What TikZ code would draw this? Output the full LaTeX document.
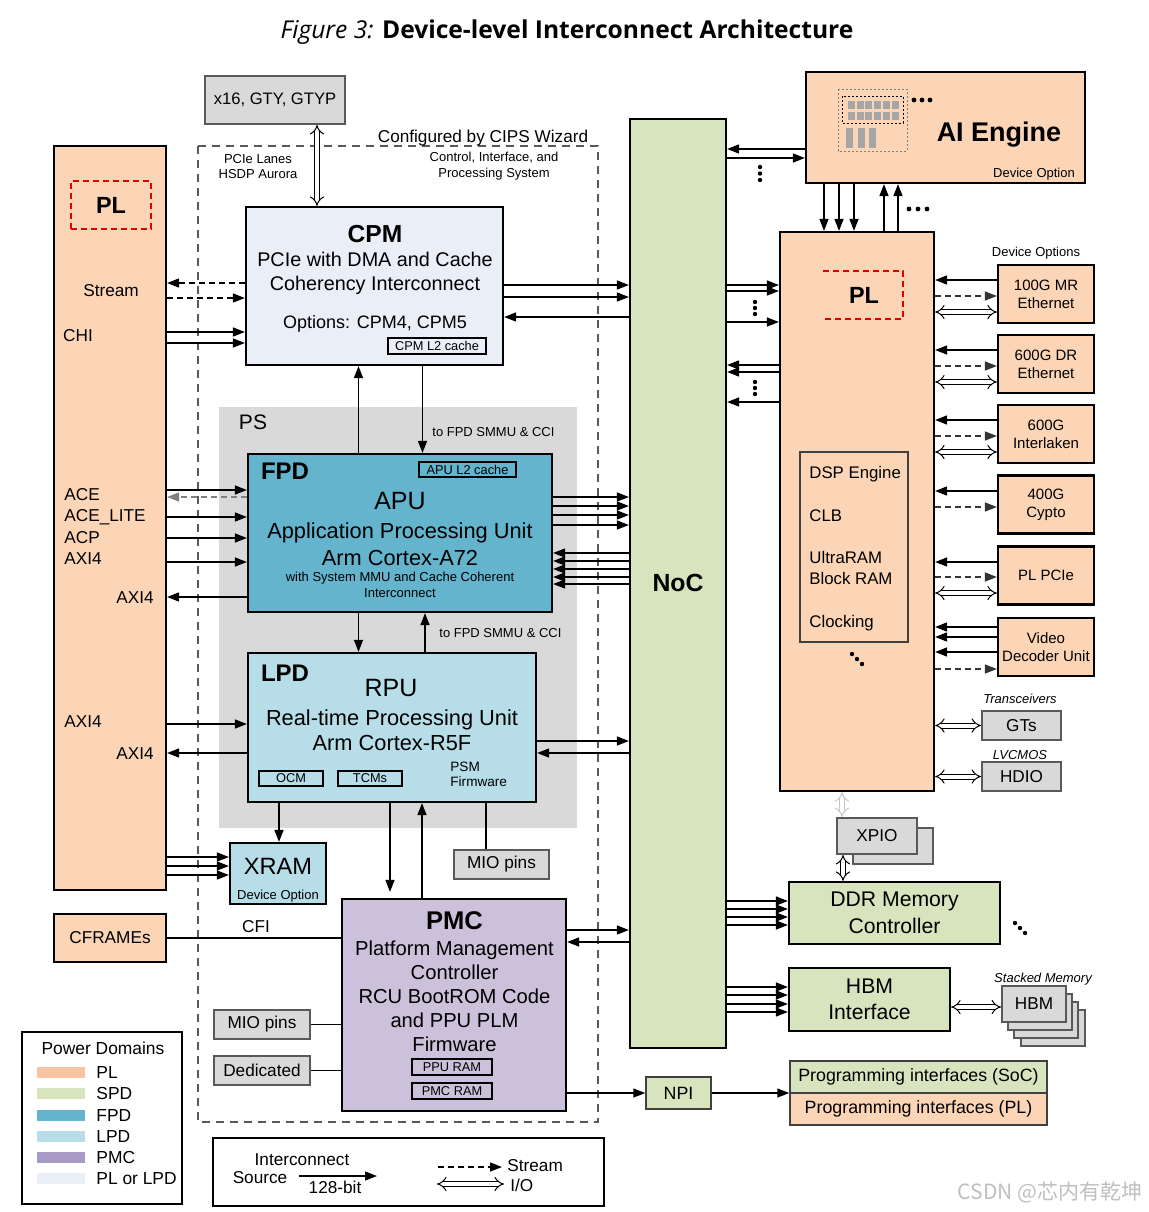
\documentclass[tikz,border=0pt]{standalone}
\usepackage{fontspec}
\setmainfont{Liberation Sans}
\newfontfamily\titlefont{Open Sans}
\newfontfamily\cjk{Noto Sans CJK SC}
\usetikzlibrary{arrows.meta}

\definecolor{plfill}{HTML}{FBD5B6}
\definecolor{plsw}{HTML}{F8C3A0}
\definecolor{nocfill}{HTML}{D7E4BD}
\definecolor{fpdfill}{HTML}{63B4CC}
\definecolor{lpdfill}{HTML}{B7DDE8}
\definecolor{pmcfill}{HTML}{CCC1DA}
\definecolor{pmcsw}{HTML}{A79AC6}
\definecolor{cpmfill}{HTML}{E9EEF7}
\definecolor{grayfill}{HTML}{D9D9D9}
\definecolor{graydraw}{HTML}{595959}
\definecolor{plred}{HTML}{E00000}
\definecolor{iconfill}{HTML}{A6A6A6}

\newcommand\fsz[2]{\fontsize{#1}{#2}\selectfont}

\tikzset{
  box/.style={draw=black, line width=1.1pt, inner sep=0pt, align=center},
  gbox/.style={draw=graydraw, fill=grayfill, line width=0.9pt, inner sep=0pt, align=center},
  pbox/.style={draw=black!75, line width=0.7pt, inner sep=0pt},
  sub/.style={draw=black, line width=0.6pt, inner sep=0pt, font=\fsz{6.4}{7.7}},
  reddash/.style={draw=plred, line width=0.9pt, dash pattern=on 3pt off 2pt},
  lbl/.style={anchor=base, inner sep=0pt},
  lblw/.style={anchor=base west, inner sep=0pt},
  lble/.style={anchor=base east, inner sep=0pt},
  tiny/.style={font=\fsz{6.5}{7.8}},
  mid/.style={font=\fsz{8.6}{10.3}},
  wire/.style={line width=0.7pt},
  arr/.style={line width=0.7pt, -{Triangle[length=6pt,width=4.5pt]}},
  strm/.style={arr, dash pattern=on 3pt off 2pt},
  io/.style={double, double distance=2pt, line width=0.5pt, {Implies}-{Implies}},
}

\begin{document}
\begin{tikzpicture}[x=0.5pt,y=-0.5pt]
\useasboundingbox (0,0) rectangle (1149,1212);

% title
\node[lbl] (title) at (567,38.5) {\titlefont\fsz{12.3}{15}\textit{Figure 3:} \textbf{Device-level Interconnect Architecture}};

% PS region and CIPS boundary
\node[fill=grayfill, minimum width=179pt, minimum height=210.5pt, inner sep=0pt] (PS) at (398,617.5) {};
\node[lbl, font=\fsz{10.5}{12}] (psT) at (253,429.5) {PS};
\draw[graydraw, line width=0.7pt, dash pattern=on 4pt off 3pt] (198,146) rectangle (598,1122);
\node[lbl, mid] (cipsT) at (483,142) {Configured by CIPS Wizard};
\node[lbl, tiny] (cipsT1) at (494,161.7) {Control, Interface, and};
\node[lbl, tiny] (cipsT2) at (494,177.7) {Processing System};
\node[lbl, tiny] (laneT1) at (258,163.7) {PCIe Lanes};
\node[lbl, tiny] (laneT2) at (258,178.7) {HSDP Aurora};

% left PL column
\node[box, fill=plfill, minimum width=56pt, minimum height=372pt] (PLL) at (110,518) {};
\node[reddash, minimum width=40pt, minimum height=24pt, inner sep=0pt, font=\bfseries\fsz{11.7}{14}] (PLLt) at (111,205) {PL};
\node[lbl, mid] (plStream) at (111,296) {Stream};
\node[lbl, mid] (plChi) at (78,341) {CHI};
\node[lblw, mid] (plAce) at (64,500) {ACE};
\node[lblw, mid] (plAceL) at (64,521) {ACE\_LITE};
\node[lblw, mid] (plAcp) at (64,543) {ACP};
\node[lblw, mid] (plAxiA) at (64,564) {AXI4};
\node[lble, mid] (plAxiB) at (154,603) {AXI4};
\node[lblw, mid] (plAxiC) at (64,727) {AXI4};
\node[lble, mid] (plAxiD) at (154,759) {AXI4};

% x16 and CPM
\node[gbox, minimum width=70pt, minimum height=24pt, font=\fsz{8.3}{10}] (x16) at (275,100) {x16, GTY, GTYP};
\node[box, fill=cpmfill, minimum width=128.5pt, minimum height=79pt] (CPM) at (374.5,286) {};
\node[lbl, font=\bfseries\fsz{12.3}{14}] (cpmT) at (375,242) {CPM};
\node[lbl, font=\fsz{9.9}{12}] (cpmT1) at (375,266.5) {PCIe with DMA and Cache};
\node[lbl, font=\fsz{9.9}{12}] (cpmT2) at (375,290.5) {Coherency Interconnect};
\node[lbl, font=\fsz{9}{11}] (cpmT3) at (375,328.5) {Options: CPM4, CPM5};
\node[sub, minimum width=49pt, minimum height=8pt] (cpmL2) at (437,346) {CPM L2 cache};

% FPD
\node[box, fill=fpdfill, minimum width=152pt, minimum height=79pt] (FPD) at (400,533) {};
\node[lbl, font=\bfseries\fsz{12}{14}] (fpdT) at (285,479.6) {FPD};
\node[sub, minimum width=48.5pt, minimum height=7.5pt] (apuL2) at (467.5,469.5) {APU L2 cache};
\node[lbl, font=\fsz{12.5}{14}] (apuT) at (400,509) {APU};
\node[lbl, font=\fsz{10.9}{13}] (apuT1) at (400,538) {Application Processing Unit};
\node[lbl, font=\fsz{10.9}{13}] (apuT2) at (400,565) {Arm Cortex-A72};
\node[lbl, tiny] (apuT3) at (400,581.7) {with System MMU and Cache Coherent};
\node[lbl, tiny] (apuT4) at (400,597.7) {Interconnect};

% LPD
\node[box, fill=lpdfill, minimum width=144pt, minimum height=74.5pt] (LPD) at (392,727.5) {};
\node[lbl, font=\bfseries\fsz{12}{14}] (lpdT) at (285,681.6) {LPD};
\node[lbl, font=\fsz{12.5}{14}] (rpuT) at (391,696) {RPU};
\node[lbl, font=\fsz{10.9}{13}] (rpuT1) at (392,725) {Real-time Processing Unit};
\node[lbl, font=\fsz{10.9}{13}] (rpuT2) at (392,750) {Arm Cortex-R5F};
\node[sub, minimum width=32pt, minimum height=7.5pt] (ocm) at (291,778.5) {OCM};
\node[sub, minimum width=32pt, minimum height=7.5pt] (tcm) at (370,778.5) {TCMs};
\node[lblw, font=\fsz{6.8}{8}] (psmT1) at (450,771.9) {PSM};
\node[lblw, font=\fsz{6.8}{8}] (psmT2) at (450,786.9) {Firmware};

% XRAM, MIO
\node[box, fill=lpdfill, minimum width=48pt, minimum height=30.5pt] (XRAM) at (278,873.5) {};
\node[lbl, font=\fsz{11.8}{14}] (xramT) at (278,874.5) {XRAM};
\node[lbl, tiny] (xramT1) at (278,899.6) {Device Option};
\node[gbox, minimum width=47.5pt, minimum height=14.5pt, mid] (mio1) at (501.5,864.5) {MIO pins};

% PMC and its inputs
\node[box, fill=pmcfill, minimum width=112pt, minimum height=106pt] (PMC) at (454,1005) {};
\node[lbl, font=\bfseries\fsz{12.8}{14}] (pmcT) at (454.5,929) {PMC};
\node[lbl, font=\fsz{10.1}{12}] (pmcT1) at (454.5,955.2) {Platform Management};
\node[lbl, font=\fsz{10.1}{12}] (pmcT2) at (454.5,979.2) {Controller};
\node[lbl, font=\fsz{10.1}{12}] (pmcT3) at (454.5,1003.2) {RCU BootROM Code};
\node[lbl, font=\fsz{10.1}{12}] (pmcT4) at (454.5,1027.2) {and PPU PLM};
\node[lbl, font=\fsz{10.1}{12}] (pmcT5) at (454.5,1051.2) {Firmware};
\node[sub, minimum width=40pt, minimum height=8pt] (ppuram) at (452,1067) {PPU RAM};
\node[sub, minimum width=40pt, minimum height=8pt] (pmcram) at (452,1091) {PMC RAM};
\node[box, fill=plfill, minimum width=56pt, minimum height=24pt, mid] (CFR) at (110,938) {CFRAMEs};
\node[lbl, mid] (cfiT) at (256,932) {CFI};
\node[gbox, minimum width=48pt, minimum height=14.5pt, mid] (mio2) at (262,1024.5) {MIO pins};
\node[gbox, minimum width=48pt, minimum height=14.5pt, mid] (ded) at (262,1070.5) {Dedicated};

% NoC
\node[box, fill=nocfill, minimum width=48pt, minimum height=464.5pt] (NoC) at (678,583.5) {};
\node[lbl, font=\bfseries\fsz{12.4}{14}] (nocT) at (678,591) {NoC};

% AI Engine
\node[box, fill=plfill, minimum width=139.5pt, minimum height=55.5pt] (AIE) at (945.5,127.5) {};
\node[lbl, font=\bfseries\fsz{13.5}{16}] (aieT) at (999,141.7) {AI Engine};
\node[lbl, tiny] (aieT1) at (1034,177.6) {Device Option};
\draw[gray, line width=0.4pt, dash pattern=on 1pt off 1pt] (838,89) rectangle (907,151);
\draw[black, line width=0.5pt, dash pattern=on 1.2pt off 0.8pt] (842,96) rectangle (903,123);
\foreach \i in {0,...,5}
  \foreach \j in {0,1}
    \fill[iconfill] (848+\i*8.7,101+\j*10.5) rectangle ++(7,8);
\foreach \i in {0,1,2}
  \fill[iconfill] (846+\i*11.7,128) rectangle ++(7,20);
\foreach \i in {0,1,2}
  \fill (914+\i*8,100) circle (1.2pt);

% right PL column
\node[box, fill=plfill, minimum width=77pt, minimum height=279.5pt] (PLR) at (857,511.5) {};
\draw[reddash] (823,271) -- (903,271) -- (903,319) -- (823,319);
\node[lbl, font=\bfseries\fsz{11.7}{14}] (PLRt) at (864,303.4) {PL};
\node[draw=black!75, line width=0.6pt, fill=plfill, minimum width=54pt, minimum height=95pt, inner sep=0pt] (fab) at (854,547) {};
\node[lblw, font=\fsz{8.4}{10}] (fabT1) at (809,478) {DSP Engine};
\node[lblw, font=\fsz{8.4}{10}] (fabT2) at (809,521) {CLB};
\node[lblw, font=\fsz{8.4}{10}] (fabT3) at (809,563) {UltraRAM};
\node[lblw, font=\fsz{8.4}{10}] (fabT4) at (809,584) {Block RAM};
\node[lblw, font=\fsz{8.4}{10}] (fabT5) at (809,627) {Clocking};
\foreach \i in {0,1,2}
  \fill (852+\i*5,654+\i*5) circle (1.1pt);

% device options
\node[lbl, tiny] (devT) at (1036,256.7) {Device Options};
\foreach \dev/\cy/\txt in {eth100/294/{100G MR\\Ethernet}, eth600/364/{600G DR\\Ethernet},
    ilkn/434/{600G\\Interlaken}, crypto/504.5/{400G\\Cypto}, plpcie/575.5/{PL PCIe},
    vdu/647/{Video\\Decoder Unit}}
  \node[box, fill=plfill, minimum width=48pt, minimum height=29pt, font=\fsz{7.5}{9}] (\dev) at (1046,\cy) {\txt};

\node[lbl, tiny, font=\itshape\fsz{6.5}{7.8}] (gtT) at (1020,703.7) {Transceivers};
\node[gbox, minimum width=39.5pt, minimum height=14.5pt, mid] (GTs) at (1021.5,725.5) {GTs};
\node[lbl, tiny, font=\itshape\fsz{6.5}{7.8}] (hdioT) at (1020,759.7) {LVCMOS};
\node[gbox, minimum width=39.5pt, minimum height=14.5pt, mid] (HDIO) at (1021.5,776.5) {HDIO};

% XPIO, memory
\node[gbox, minimum width=40pt, minimum height=18pt] (xpioB) at (893,846) {};
\node[gbox, minimum width=40pt, minimum height=18pt, mid] (xpio) at (877,836) {XPIO};
\node[box, fill=nocfill, minimum width=105.5pt, minimum height=31pt, font=\fsz{10.6}{13.5}] (DDR) at (894.5,913) {DDR Memory\\Controller};
\foreach \i in {0,1,2}
  \fill (1015+\i*5,923+\i*5) circle (1.1pt);
\node[box, fill=nocfill, minimum width=80.5pt, minimum height=31.5pt, font=\fsz{10.6}{13.2}] (HBMI) at (869.5,999.5) {HBM\\Interface};
\node[lbl, font=\itshape\fsz{6.5}{7.8}] (stackT) at (1043,982.7) {Stacked Memory};
\foreach \k/\dx/\dy in {3/19/24, 2/12/16, 1/6/8}
  \node[gbox, minimum width=32pt, minimum height=18pt] (hbm\k) at (1034+\dx,1004+\dy) {};
\node[gbox, minimum width=32pt, minimum height=18pt, mid] (hbm) at (1034,1004) {HBM};

% NPI, programming interfaces
\node[pbox, fill=nocfill, minimum width=32.5pt, minimum height=16pt, font=\fsz{8.9}{10}] (NPI) at (678.5,1093) {NPI};
\node[pbox, fill=nocfill, minimum width=128.5pt, minimum height=16pt, font=\fsz{8.9}{10}] (progSoC) at (918.5,1077) {Programming interfaces (SoC)};
\node[pbox, fill=plfill, minimum width=128.5pt, minimum height=16pt, font=\fsz{8.9}{10}] (progPL) at (918.5,1109) {Programming interfaces (PL)};

% connectors, left side
\draw[io] (x16.south -| 317,0) -- (CPM.north -| 317,0);
\draw[strm] (CPM.west |- 0,283) -- (PLL.east |- 0,283);
\draw[strm] (PLL.east |- 0,298) -- (CPM.west |- 0,298);
\foreach \y in {332,343}
  \draw[arr] (PLL.east |- 0,\y) -- (CPM.west |- 0,\y);
\foreach \y in {285,297}
  \draw[arr] (CPM.east |- 0,\y) -- (NoC.west |- 0,\y);
\draw[arr] (NoC.west |- 0,317) -- (CPM.east |- 0,317);
\draw[arr] (FPD.north -| 358.5,0) -- (CPM.south -| 358.5,0);
\draw[arr] (CPM.south -| 422.5,0) -- (FPD.north -| 422.5,0);
\node[lblw, tiny] (smmu1) at (432,436.7) {to FPD SMMU \& CCI};

\foreach \y in {490,517,538,562}
  \draw[arr] (PLL.east |- 0,\y) -- (FPD.west |- 0,\y);
\draw[strm, gray] (FPD.west |- 0,497) -- (PLL.east |- 0,497);
\draw[arr] (FPD.west |- 0,597) -- (PLL.east |- 0,597);
\foreach \y in {497,506,515,525}
  \draw[arr] (FPD.east |- 0,\y) -- (NoC.west |- 0,\y);
\foreach \y in {553,561,569,577,584}
  \draw[arr] (NoC.west |- 0,\y) -- (FPD.east |- 0,\y);

\draw[arr] (FPD.south -| 358.5,0) -- (LPD.north -| 358.5,0);
\draw[arr] (LPD.north -| 425,0) -- (FPD.south -| 425,0);
\node[lblw, tiny] (smmu2) at (439,637.7) {to FPD SMMU \& CCI};
\draw[arr] (PLL.east |- 0,724) -- (LPD.west |- 0,724);
\draw[arr] (LPD.west |- 0,753) -- (PLL.east |- 0,753);
\draw[arr] (LPD.east |- 0,741) -- (NoC.west |- 0,741);
\draw[arr] (NoC.west |- 0,753) -- (LPD.east |- 0,753);

\draw[arr] (LPD.south -| 279,0) -- (XRAM.north -| 279,0);
\foreach \y in {857,866,875}
  \draw[arr] (PLL.east |- 0,\y) -- (XRAM.west |- 0,\y);
\draw[wire] (LPD.south -| 486,0) -- (mio1.north -| 486,0);
\draw[arr, shorten >=3pt] (LPD.south -| 390,0) -- (PMC.north -| 390,0);
\draw[arr] (PMC.north -| 422,0) -- (LPD.south -| 422,0);

\draw[wire] (CFR.east) -- (PMC.west |- CFR.east);
\draw[wire] (mio2.east) -- (PMC.west |- mio2.east);
\draw[wire] (ded.east) -- (PMC.west |- ded.east);
\draw[arr] (PMC.east |- 0,930) -- (NoC.west |- 0,930);
\draw[arr] (NoC.west |- 0,942) -- (PMC.east |- 0,942);
\draw[arr] (PMC.east |- NPI.west) -- (NPI.west);
\draw[arr] (NPI.east) -- (NPI.east -| progSoC.west);

% connectors, right side
\draw[arr] (AIE.west |- 0,149) -- (NoC.east |- 0,149);
\draw[arr] (NoC.east |- 0,158) -- (AIE.west |- 0,158);
\foreach \i in {0,1,2}
  \fill (760,167+\i*6.5) circle (1.1pt);
\foreach \x in {824,839,854}
  \draw[arr] (AIE.south -| \x,0) -- (PLR.north -| \x,0);
\foreach \x in {884,898}
  \draw[arr] (PLR.north -| \x,0) -- (AIE.south -| \x,0);
\foreach \i in {0,1,2}
  \fill (909+\i*9,209) circle (1.2pt);

\foreach \y in {285,291,322}
  \draw[arr] (NoC.east |- 0,\y) -- (PLR.west |- 0,\y);
\foreach \y in {365,372,402}
  \draw[arr] (PLR.west |- 0,\y) -- (NoC.east |- 0,\y);
\foreach \i in {0,1,2} {
  \fill (755,302+\i*6) circle (1.1pt);
  \fill (755,382+\i*6) circle (1.1pt);
}

\foreach \dev/\ya/\yb/\yc in {eth100/280/296/312, eth600/350/366/382, ilkn/420/436/452, plpcie/562/577/593} {
  \draw[arr] (\dev.west |- 0,\ya) -- (PLR.east |- 0,\ya);
  \draw[strm, black!80] (PLR.east |- 0,\yb) -- (\dev.west |- 0,\yb);
  \draw[io] (PLR.east |- 0,\yc) -- (\dev.west |- 0,\yc);
}
\draw[arr] (crypto.west |- 0,491) -- (PLR.east |- 0,491);
\draw[strm, black!80] (PLR.east |- 0,507) -- (crypto.west |- 0,507);
\foreach \y in {627,637,652}
  \draw[arr] (vdu.west |- 0,\y) -- (PLR.east |- 0,\y);
\draw[strm, black!80] (PLR.east |- 0,669) -- (vdu.west |- 0,669);
\draw[io] (PLR.east |- GTs.west) -- (GTs.west);
\draw[io] (PLR.east |- HDIO.west) -- (HDIO.west);

\draw[io, draw=gray!45] (PLR.south -| 842,0) -- (xpio.north -| 842,0);
\draw[io] (xpio.south -| 843,0) -- (DDR.north -| 843,0);
\foreach \y in {901,909,917,925}
  \draw[arr] (NoC.east |- 0,\y) -- (DDR.west |- 0,\y);
\foreach \y in {987,995,1004,1012}
  \draw[arr] (NoC.east |- 0,\y) -- (HBMI.west |- 0,\y);
\draw[io] (HBMI.east |- 0,1007) -- (hbm.west |- 0,1007);

% power domain legend
\node[draw, line width=1pt, minimum width=80pt, minimum height=86pt, inner sep=0pt] (pd) at (102,1118) {};
\node[lbl, font=\fsz{8.7}{10}] (pdT) at (103,1054) {Power Domains};
\foreach \y/\col/\txt [count=\i] in {1072/plsw/PL, 1093.5/nocfill/SPD, 1115/fpdfill/FPD,
    1136.5/lpdfill/LPD, 1157.5/pmcsw/PMC, 1178.5/cpmfill/PL or LPD} {
  \node[fill=\col, minimum width=24pt, minimum height=5.5pt, inner sep=0pt] (sw\i) at (61,\y) {};
  \node[lblw, font=\fsz{8.7}{10}] (sl\i) at (96,\y+6.2) {\txt};
}

% interconnect legend
\node[draw, line width=1pt, minimum width=195.5pt, minimum height=34pt, inner sep=0pt] (ic) at (408.5,1172) {};
\node[lbl, mid] (icT1) at (302,1165) {Interconnect};
\node[lbl, mid] (icT2) at (260,1183) {Source};
\node[lbl, mid] (icT3) at (335,1193) {128-bit};
\node[lblw, mid] (icT4) at (507,1171) {Stream};
\node[lblw, mid] (icT5) at (510,1191) {I/O};
\coordinate (srcA) at (299,1176);
\coordinate (srcB) at (377,1176);
\coordinate (stA) at (438,1167);
\coordinate (stB) at (502,1167);
\coordinate (ioA) at (437,1184);
\coordinate (ioB) at (504,1184);
\draw[arr] (srcA) -- (srcB);
\draw[strm] (stA) -- (stB);
\draw[io] (ioA) -- (ioB);

\node[lbl, text=black!25, font=\cjk\fsz{10.5}{12}] (wm) at (1050,1199) {CSDN @芯内有乾坤};
\end{tikzpicture}
\end{document}
